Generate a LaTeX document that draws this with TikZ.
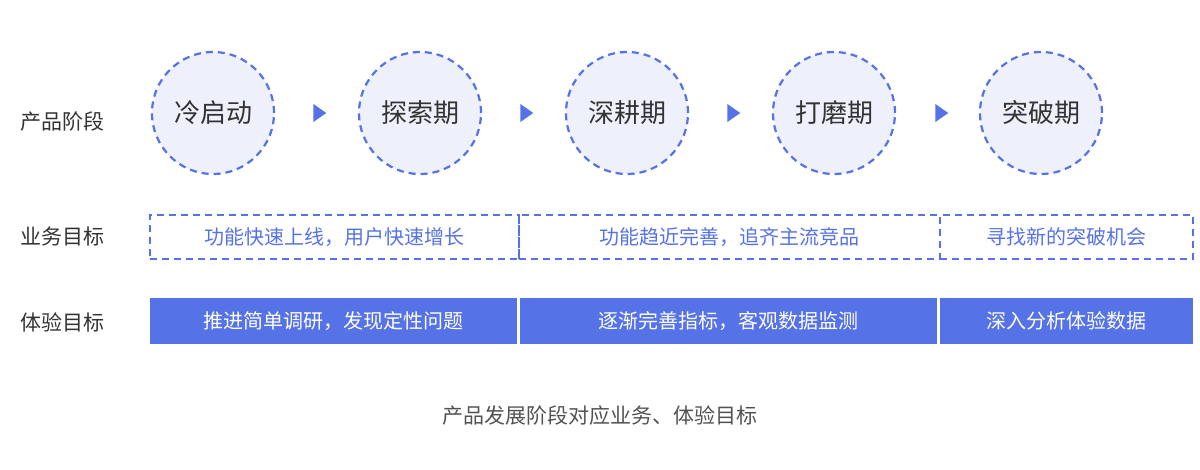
\documentclass[tikz,border=0pt]{standalone}
\usepackage{fontspec}
\usetikzlibrary{shapes.geometric}
\newfontfamily\cjk{Noto Sans CJK SC}
\definecolor{bl}{HTML}{5572E6}
\definecolor{lf}{HTML}{EEF0FB}
\definecolor{tx}{HTML}{333333}
\begin{document}
\begin{tikzpicture}[x=1pt,y=-1pt,
 stage/.style={circle,draw=bl,fill=lf,line width=2.2pt,dash pattern=on 7pt off 5pt,minimum size=122pt,inner sep=0pt,font=\cjk\fontsize{26}{30}\selectfont,text=tx},
 lbl/.style={font=\cjk\fontsize{21}{25}\selectfont,text=tx},
 tri/.style={fill=bl,isosceles triangle,isosceles triangle apex angle=70,minimum height=13pt,minimum width=15pt,inner sep=0pt},
 dbox/.style={draw=bl,line width=2pt,dash pattern=on 7pt off 5pt,minimum height=44pt,inner sep=0pt,font=\cjk\fontsize{20}{24}\selectfont,text=bl},
 sbox/.style={fill=bl,minimum height=46pt,inner sep=0pt,font=\cjk\fontsize{20}{24}\selectfont,text=white}]
\useasboundingbox (0,0) rectangle (1200,470);
\node[lbl] (l1) at (62,122) {产品阶段};
\node[lbl] (l2) at (62,237) {业务目标};
\node[lbl] (l3) at (62,322) {体验目标};
\node[stage] (c1) at (213,113) {冷启动};
\node[stage] (c2) at (420,113) {探索期};
\node[stage] (c3) at (627,113) {深耕期};
\node[stage] (c4) at (834,113) {打磨期};
\node[stage] (c5) at (1041,113) {突破期};
\node[tri] (t1) at (318,113) {};
\node[tri] (t2) at (525,113) {};
\node[tri] (t3) at (732,113) {};
\node[tri] (t4) at (940,113) {};
\node[dbox,minimum width=369pt] (d1) at (334.5,237) {功能快速上线，用户快速增长};
\node[dbox,minimum width=421pt] (d2) at (729.5,237) {功能趋近完善，追齐主流竞品};
\node[dbox,minimum width=253pt] (d3) at (1066.5,237) {寻找新的突破机会};
\node[sbox,minimum width=367pt] (s1) at (333.5,321) {推进简单调研，发现定性问题};
\node[sbox,minimum width=417pt] (s2) at (728.5,321) {逐渐完善指标，客观数据监测};
\node[sbox,minimum width=253pt] (s3) at (1066.5,321) {深入分析体验数据};
\node[font=\cjk\fontsize{21}{25}\selectfont,text=tx!85] (cap) at (600,416) {产品发展阶段对应业务、体验目标};
\end{tikzpicture}
\end{document}
